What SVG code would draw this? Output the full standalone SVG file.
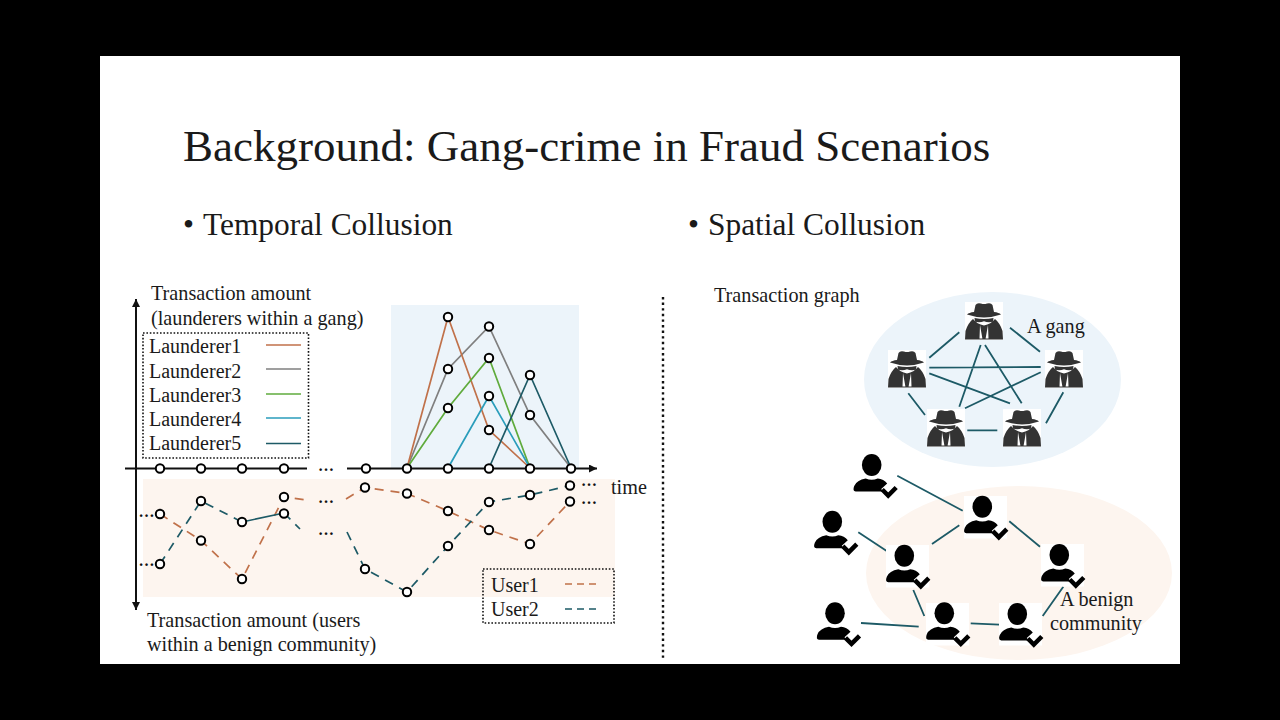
<svg xmlns="http://www.w3.org/2000/svg" width="1280" height="720" viewBox="0 0 1280 720">
<style>
text{font-family:"Liberation Serif","Times New Roman",serif;fill:#1a1a1a}
.t{font-size:20.2px}
.l{font-size:20px}
.h{font-size:45px}
.b{font-size:31.4px}
.dots{font-size:16px;font-weight:bold;fill:#111}
.axis{stroke:#111;stroke-width:2;fill:none}
.dot{fill:#fff;stroke:#000;stroke-width:2;r:4.200px}
.c1,.c2,.c3,.c4,.c5,.u1,.u2{fill:none;stroke-width:1.700}
.c1,.u1{stroke:#c0714a}
.c2{stroke:#7f7f7f}
.c3{stroke:#5fab3c}
.c4{stroke:#2a9dbb}
.c5,.u2{stroke:#1d5a66}
.u1,.u2{stroke-dasharray:9 7}
.short{stroke-dasharray:7 5}
.legend{fill:none;stroke:#111;stroke-width:1.600;stroke-dasharray:1.600 1.800}
.e{stroke:#1d5a66;stroke-width:1.800;fill:none}
.box{fill:#fff}
</style>
<defs>
<marker id="ah" markerWidth="10" markerHeight="8" refX="8" refY="4" orient="auto-start-reverse" markerUnits="userSpaceOnUse"><path d="M0 0L8 4L0 8Z" fill="#111"/></marker>
<symbol id="spy" overflow="visible" viewBox="-19 -19 38 38" width="38" height="38">
<rect x="-19" y="-19" width="38" height="38" fill="#fff"/>
<path d="M-10-9L-8.500-16Q-7-18.500-3-17.500Q0-16.500 3-17.500Q7-18.500 8.500-16L10-9Q15-8.500 17-6.500Q8-3.500 0-3.500Q-8-3.500-17-6.500Q-15-8.500-10-9Z" fill="#333"/>
<path d="M-9.500-3Q0-1.200 9.500-3L9 .8Q4 2 0 .3Q-4 2-9 .8Z" fill="#333"/>
<path d="M-19 18.500L-18.500 10Q-16 2-11-2Q-7 3 0 4.500Q7 3 11-2Q16 2 18.500 10L19 18.500Z" fill="#333"/>
<path d="M-4 4L-1.600 17.500L-4.500 17.500ZM4 4L1.600 17.500L4.500 17.500Z" fill="#fff"/>
</symbol>
<symbol id="user" overflow="visible" viewBox="-19 -12 46 46" width="46" height="46">
<ellipse cx="0" cy="0" rx="9.800" ry="11" fill="#000"/>
<path d="M-16 26.500Q-19.500 26-17.500 21Q-15 15-6 13.500Q0 16 6 13.500Q12 14 15.500 18.500L9.500 24L11.500 26.500Z" fill="#000"/>
<path d="M10.500 24.500L16.500 30.500L24.500 22.500" fill="none" stroke="#000" stroke-width="4.500"/>
</symbol>
</defs>
<rect width="1280" height="720" fill="#000"/>
<rect x="100" y="56" width="1080" height="608" fill="#fff"/>
<ellipse cx="992.500" cy="379.500" rx="128.500" ry="87.500" fill="#ecf4fa"/>
<ellipse cx="1019" cy="573" rx="153" ry="87" fill="#fdf5ef"/>
<rect x="391" y="305" width="188" height="163" fill="#ecf4fa"/>
<rect x="143" y="479" width="472" height="118" fill="#fdf5ef"/>
<text class="h" x="183" y="161">Background: Gang-crime in Fraud Scenarios</text>
<text class="b" x="183" y="235">•</text>
<text class="b" x="203" y="235">Temporal Collusion</text>
<text class="b" x="688" y="235">•</text>
<text class="b" x="708" y="235">Spatial Collusion</text>
<path d="M663 297V660" stroke="#111" stroke-width="2.400" stroke-dasharray="2.400 3.200" fill="none"/>

<g id="chart-axes">
<path class="axis" d="M136 468V299" marker-end="url(#ah)"/>
<path class="axis" d="M136 468V610" marker-end="url(#ah)"/>
<path class="axis" d="M125 468.500H307"/>
<path class="axis" d="M347 468.500H597" marker-end="url(#ah)"/>
</g>
<g id="connectors">
<path class="c2" d="M407 468L448 369L489 326.500L530 415L571 468"/>
<path class="c1" d="M407 468L448 317L489 430L530 468"/>
<path class="c3" d="M407 468L448 408L489 358L530 468"/>
<path class="c4" d="M448 468L489 396L530 468"/>
<path class="c5" d="M489 468L530 375L571 468"/>
<path class="u1" d="M160 514L201 540.500L242 579L284 497L306 500"/>
<path class="u1" d="M346 499L365 487.500L407 493.500L448 511L489 530L530 544L570 501.500"/>
<path class="u2" d="M160 564L201 501L242 522"/>
<path class="c5" d="M242 522L284 513"/>
<path class="u2" d="M284 513L300 529"/>
<path class="u2" d="M347 532L365 569L407 592L448 546L489 502L530 495L570 485.500"/>
<g class="e">
<path d="M929.300 357.700L959.300 332.300M1010 327.700L1040 351.700M929.300 367.700L1040.700 367M929.300 373.300L1010 403.300M1040.700 372.300L965 408.300M980.700 345L959.300 406.700M985 345L1021.700 403.300M908.300 393.300L925 415M967.300 430.300L997.300 430.300M1063.300 392.300L1046 423.300"/>
<path d="M897.300 475.700L962.700 510.700M858.300 532.300L886.700 551M932 544L959.300 525.300M1009.300 521.300L1040 546.700M913.300 590L924.300 616M861 623L918.700 626.700M970.700 623.300L999.300 624.700M1042.700 616L1063.300 586.700"/>
</g>
</g>
<g id="chart-dots">
<g id="axis-dots">
<circle class="dot" cx="160" cy="468.500"/><circle class="dot" cx="201" cy="468.500"/><circle class="dot" cx="242" cy="468.500"/><circle class="dot" cx="284" cy="468.500"/><circle class="dot" cx="366" cy="468.500"/><circle class="dot" cx="407" cy="468.500"/><circle class="dot" cx="448" cy="468.500"/><circle class="dot" cx="489" cy="468.500"/><circle class="dot" cx="530" cy="468.500"/><circle class="dot" cx="571" cy="468.500"/>
</g>
<g id="launderer-dots">
<circle class="dot" cx="448" cy="317"/><circle class="dot" cx="448" cy="369"/><circle class="dot" cx="448" cy="408"/><circle class="dot" cx="489" cy="326.500"/><circle class="dot" cx="489" cy="358"/><circle class="dot" cx="489" cy="396"/><circle class="dot" cx="489" cy="430"/><circle class="dot" cx="530" cy="375"/><circle class="dot" cx="530" cy="415"/>
</g>
<g id="user-dots">
<circle class="dot" cx="160" cy="514"/><circle class="dot" cx="201" cy="540.500"/><circle class="dot" cx="242" cy="579"/><circle class="dot" cx="284" cy="497"/><circle class="dot" cx="365" cy="487.500"/><circle class="dot" cx="407" cy="493.500"/><circle class="dot" cx="448" cy="511"/><circle class="dot" cx="489" cy="530"/><circle class="dot" cx="530" cy="544"/><circle class="dot" cx="570" cy="501.500"/>
<circle class="dot" cx="160" cy="564"/><circle class="dot" cx="201" cy="501"/><circle class="dot" cx="242" cy="522"/><circle class="dot" cx="284" cy="513.500"/><circle class="dot" cx="365" cy="569"/><circle class="dot" cx="407" cy="592"/><circle class="dot" cx="448" cy="546"/><circle class="dot" cx="489" cy="502"/><circle class="dot" cx="530" cy="495"/><circle class="dot" cx="570" cy="485.500"/>
</g>
</g>
<g id="ellipses-marks">
<text class="dots" x="318" y="470.500">…</text>
<text class="dots" x="318" y="502.500">…</text>
<text class="dots" x="318" y="534.500">…</text>
<text class="dots" x="138.500" y="516.500">…</text>
<text class="dots" x="138.500" y="565.500">…</text>
<text class="dots" x="581" y="486.400">…</text>
<text class="dots" x="581" y="504.300">…</text>
</g>
<g id="legend-launderers">
<rect class="legend" x="143" y="333" width="165.500" height="125"/>
<text class="l" x="149" y="353">Launderer1</text>
<text class="l" x="149" y="377.500">Launderer2</text>
<text class="l" x="149" y="401.500">Launderer3</text>
<text class="l" x="149" y="426">Launderer4</text>
<text class="l" x="149" y="450">Launderer5</text>
<path class="c1" d="M266 345H301"/><path class="c2" d="M266 369H301"/><path class="c3" d="M266 394H301"/><path class="c4" d="M266 418H301"/><path class="c5" d="M266 443.500H301"/>
</g>
<g id="legend-users">
<rect class="legend" x="483" y="569" width="131" height="54"/>
<text class="l" x="491" y="591.500">User1</text>
<text class="l" x="491" y="616">User2</text>
<path class="u1 short" d="M565 584H596"/>
<path class="u2 short" d="M565 609H596"/>
</g>
<g id="labels">
<text class="t" x="151" y="300">Transaction amount</text>
<text class="t" x="151" y="325">(launderers within a gang)</text>
<text class="t" x="611" y="494">time</text>
<text class="t" x="147" y="627">Transaction amount (users</text>
<text class="t" x="147" y="651">within a benign community)</text>
<text class="t" x="714" y="302">Transaction graph</text>
</g>
<g id="spy-1"><use href="#spy" x="965" y="302"/></g>
<g id="spy-2"><use href="#spy" x="888" y="350"/></g>
<g id="spy-3"><use href="#spy" x="1045" y="350"/></g>
<g id="spy-4"><use href="#spy" x="927" y="409"/></g>
<g id="spy-5"><use href="#spy" x="1003" y="409"/></g>
<text class="t" x="1027" y="333">A gang</text>
<g id="user-a"><use href="#user" x="852.700" y="453"/></g>
<g id="user-b"><use href="#user" x="813.300" y="509.700"/></g>
<g id="user-f"><use href="#user" x="816" y="601.300"/></g>
<g id="user-c"><rect class="box" x="886" y="545" width="43" height="42.500"/><use href="#user" x="885.300" y="543.700"/></g>
<g id="user-d"><rect class="box" x="964" y="496" width="43" height="42.500"/><use href="#user" x="963.300" y="494.700"/></g>
<g id="user-e"><rect class="box" x="1041" y="544" width="43" height="42.500"/><use href="#user" x="1040.300" y="543"/></g>
<g id="user-g"><rect class="box" x="926" y="603" width="43" height="42.500"/><use href="#user" x="925.300" y="601.300"/></g>
<g id="user-h"><rect class="box" x="999" y="603" width="43" height="42.500"/><use href="#user" x="998.300" y="602"/></g>
<text class="t" x="1060" y="606">A benign</text>
<text class="t" x="1050" y="630">community</text>
</svg>
